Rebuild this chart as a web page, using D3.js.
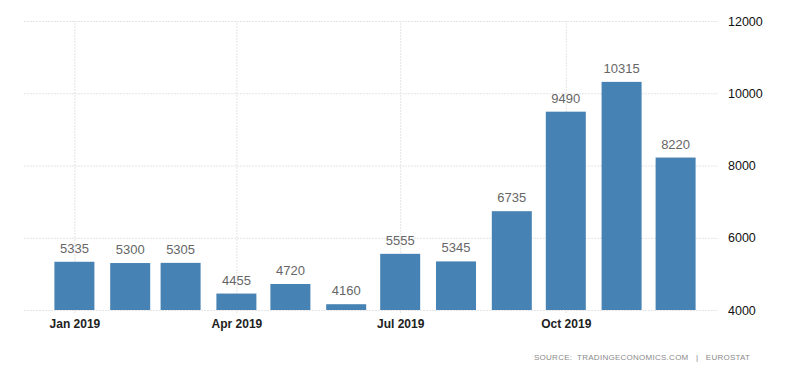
<!DOCTYPE html>
<html>
<head>
<meta charset="utf-8">
<script src="https://cdn.jsdelivr.net/npm/d3@7"></script>
<style>
  body { margin: 0; background: #fff; }
  svg { display: block; font-family: "Liberation Sans", Arial, sans-serif; }
  .grid line { stroke: #e4e4e4; stroke-dasharray: 2,1; }
  .grid .domain { display: none; }
</style>
</head>
<body>
<svg id="chart"></svg>
<script>
// Data: monthly values 2019
const months = ["2019-01-01", "2019-02-01", "2019-03-01", "2019-04-01", "2019-05-01", "2019-06-01",
                "2019-07-01", "2019-08-01", "2019-09-01", "2019-10-01", "2019-11-01", "2019-12-01"];
const values = [5335, 5300, 5305, 4455, 4720, 4160, 5555, 5345, 6735, 9490, 10315, 8220];
const yTicks = [4000, 6000, 8000, 10000, 12000];
const xTicks = ["2019-01-01", "2019-04-01", "2019-07-01", "2019-10-01"];
const sourceText = "SOURCE:  TRADINGECONOMICS.COM   |   EUROSTAT";

const width = 800;
const height = 373;
const margin = { top: 21, right: 92, bottom: 63, left: 24 };

const parse = d3.utcParse("%Y-%m-%d");
const data = months.map((m, i) => ({ date: parse(m), value: values[i] }));

const svg = d3.select("#chart")
    .attr("width", width)
    .attr("height", height);

// Scales
const x = d3.scaleUtc()
    .domain([d3.utcDay.offset(parse("2019-01-01"), -28), d3.utcDay.offset(parse("2019-12-01"), 18)])
    .range([margin.left, width - margin.right]);

const y = d3.scaleLinear()
    .domain([4000, 12000])
    .range([height - margin.bottom, margin.top]);

const plotW = width - margin.right - margin.left;

// Horizontal grid + right labels
const yAxis = svg.append("g")
    .attr("class", "grid")
    .attr("transform", `translate(${margin.left},0)`)
    .call(d3.axisRight(y).tickValues(yTicks).tickSize(plotW + 10).tickPadding(10).tickFormat(d3.format("d")));
yAxis.selectAll("text")
    .style("font-size", "12.5px")
    .style("fill", "#111");

// Vertical grid + bottom labels
const xAxis = svg.append("g")
    .attr("class", "grid")
    .attr("transform", `translate(0,${height - margin.bottom + 3})`)
    .call(d3.axisTop(x).tickValues(xTicks.map(parse)).tickSize(height - margin.bottom + 3 - margin.top).tickFormat(d3.utcFormat("%b %Y")));
xAxis.selectAll("text")
    .attr("y", 15)
    .attr("dy", "0")
    .style("font-size", "12px")
    .style("font-weight", "bold")
    .style("fill", "#222");

// Bars
const barW = 40;
svg.selectAll(".bar")
    .data(data)
    .enter()
    .append("rect")
    .attr("class", "bar")
    .attr("x", d => x(d.date) - barW / 2)
    .attr("y", d => y(d.value))
    .attr("width", barW)
    .attr("height", d => y(4000) - y(d.value))
    .attr("fill", "#4682b4");

// Value labels
svg.selectAll(".label")
    .data(data)
    .enter()
    .append("text")
    .attr("x", d => x(d.date))
    .attr("y", d => y(d.value) - 9)
    .attr("text-anchor", "middle")
    .style("font-size", "13px")
    .style("fill", "#666")
    .text(d => d.value);

// Source
svg.append("text")
    .attr("x", 534)
    .attr("y", 360)
    .attr("textLength", 216)
    .attr("lengthAdjust", "spacing")
    .style("white-space", "pre")
    .style("font-size", "8px")
    .style("fill", "#8a8a8a")
    .text(sourceText);
</script>
</body>
</html>
